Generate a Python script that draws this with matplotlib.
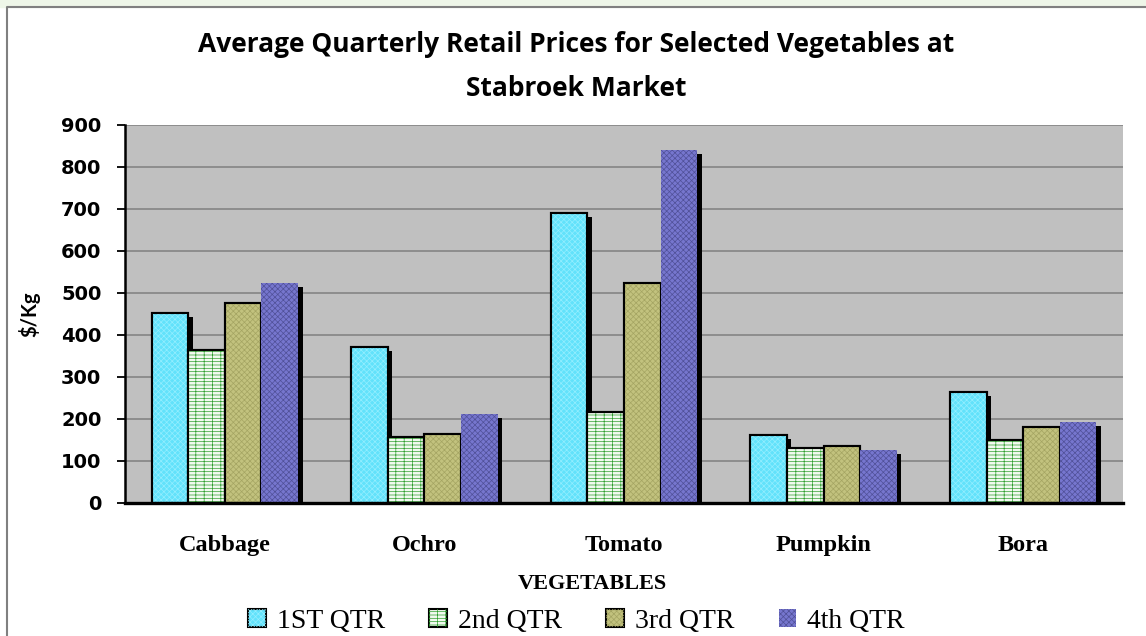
import matplotlib.pyplot as plt
import numpy as np
from matplotlib.lines import Line2D
from matplotlib.patches import Rectangle

plt.rcParams['hatch.linewidth'] = 0.5

vegetables = ["Cabbage", "Ochro", "Tomato", "Pumpkin", "Bora"]
quarters = ["1ST QTR", "2nd QTR", "3rd QTR", "4th QTR"]
qtr1 = [453, 372, 691, 163, 265]
qtr2 = [364, 156, 217, 132, 151]
qtr3 = [477, 165, 525, 136, 180]
qtr4 = [525, 213, 840, 126, 192]

faces = ["#62E2FB", "#F2FAF0", "#C2C27E", "#7676CE"]
hatch_cols = ["#93EEFF", "#2E9E2E", "#A4A462", "#505098"]
hatches = ["xxxxxx", "-----||", "xxxxxx", "xxxxxx"]
edges = ["black", "black", "black", "none"]

fig = plt.figure(figsize=(11.46, 6.36), dpi=100)
ax = fig.add_axes([125 / 1146, 1 - 503 / 636, 998 / 1146, 378 / 636])
ax.set_facecolor("#C0C0C0")

x = np.arange(len(vegetables))
w = 0.1834
dx = 4.5 / 199.6
dy = 4 / 0.42
handles = []
for i, vals in enumerate([qtr1, qtr2, qtr3, qtr4]):
    pos = x + (i - 1.5) * w
    vals = np.array(vals)
    # shadow
    ax.bar(pos + dx, vals - dy, w, color="black", zorder=2)
    base = ax.bar(pos, vals, w, color=faces[i], edgecolor=edges[i],
                  linewidth=1.5, zorder=3 + i)
    over = ax.bar(pos, vals, w, facecolor="none", edgecolor=hatch_cols[i],
                  hatch=hatches[i], linewidth=0, zorder=3 + i)
    if edges[i] != "none":
        ax.bar(pos, vals, w, facecolor="none", edgecolor="black",
               linewidth=1.5, zorder=3 + i)
    handles.append((base[0], over[0]))

ax.set_xlim(-0.5, 4.5)
ax.set_ylim(0, 900)
ax.set_yticks(range(0, 901, 100))
ax.yaxis.grid(True, color="#808080", linewidth=1.1)
ax.set_axisbelow(True)
for s in ["top", "right"]:
    ax.spines[s].set_visible(False)
ax.spines["left"].set_linewidth(1.8)
ax.spines["bottom"].set_linewidth(2.4)
ax.spines["bottom"].set_zorder(10)

ax.set_xticks(x)
ax.set_xticklabels(vegetables, family="Liberation Serif", fontweight="bold", fontsize=17.5)
ax.tick_params(axis="x", length=0, pad=23)
ax.tick_params(axis="y", direction="out", length=6, width=1.3, pad=11)
for lab in ax.get_yticklabels():
    lab.set_fontweight("bold")
    lab.set_fontsize(14)

ax.set_ylabel("$/Kg", family="Lato", fontweight="bold", fontsize=14.5)
ax.yaxis.set_label_coords(-0.085, 0.5)
ax.set_xlabel("VEGETABLES", family="Liberation Serif", fontweight="bold", fontsize=16)
ax.xaxis.set_label_coords(0.468, -0.188)

fig.text(0.503, 1 - 45 / 636, "Average Quarterly Retail Prices for Selected Vegetables at",
         ha="center", va="center", family="Open Sans", fontweight="bold", fontsize=19)
fig.text(0.503, 1 - 88 / 636, "Stabroek Market",
         ha="center", va="center", family="Open Sans", fontweight="bold", fontsize=19)

fig.legend(handles, quarters, loc="center", bbox_to_anchor=(0.503, 1 - 621 / 636),
           ncol=4, frameon=False, prop={"family": "Liberation Serif", "size": 20},
           handlelength=0.62, handleheight=0.62, handletextpad=0.4, columnspacing=1.6)

# chart area border and faint background strip at the top
fig.patches.append(Rectangle((0, 1 - 7 / 636), 1, 7 / 636, transform=fig.transFigure,
                             color="#EEF6E8", zorder=0))
fig.lines.append(Line2D([7 / 1146, 7 / 1146, 1], [0, 1 - 7 / 636, 1 - 7 / 636],
                        transform=fig.transFigure, color="#808080", linewidth=1.5))

fig.savefig("out.png", dpi=100)
